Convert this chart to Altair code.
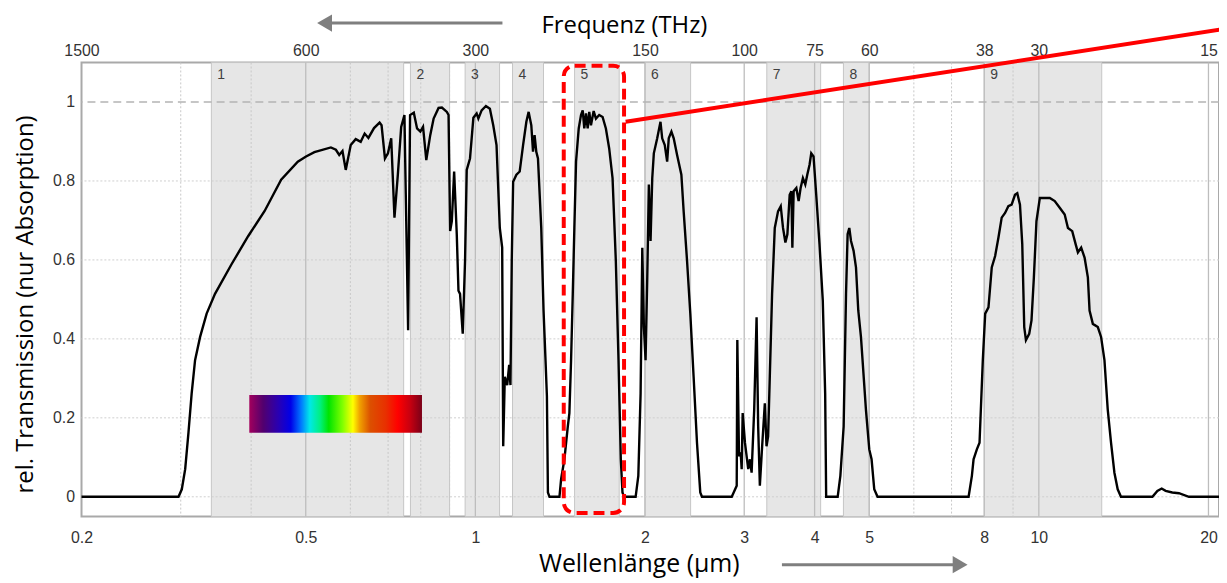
import altair as alt
import pandas as pd

# ---------------- data ----------------
wl = [0.200, 0.2973, 0.3013, 0.3055, 0.3096, 0.3137, 0.3181, 0.3247, 0.3335, 0.3451,
      0.3692, 0.3951, 0.4227, 0.4522, 0.4840, 0.5006, 0.5180, 0.5541, 0.5655, 0.5733,
      0.5810, 0.5888, 0.6009, 0.6133, 0.6259, 0.6361, 0.6459, 0.6609, 0.6761, 0.6816,
      0.6911, 0.6996, 0.7090, 0.7185, 0.7285, 0.7385, 0.7484, 0.7525, 0.7597, 0.7658,
      0.7776, 0.7880, 0.7986, 0.8075, 0.8183, 0.8316, 0.8432, 0.8604, 0.8722, 0.8901,
      0.8962, 0.9020, 0.9083, 0.9169, 0.9268, 0.9333, 0.9393, 0.9497, 0.9587, 0.9653,
      0.9783, 0.9919, 1.0053, 1.0123, 1.0259, 1.0440, 1.0611, 1.0758, 1.0903, 1.1050,
      1.1158, 1.1205, 1.1278, 1.1389, 1.1481, 1.1542, 1.1603, 1.1669, 1.1826, 1.1986,
      1.2153, 1.2317, 1.2432, 1.2569, 1.2656, 1.2738, 1.2827, 1.2915, 1.3090, 1.3213,
      1.3320, 1.3396, 1.3451, 1.3539, 1.4100, 1.4197, 1.4389, 1.4589, 1.4684, 1.4786,
      1.4889, 1.4986, 1.5090, 1.5256, 1.5399, 1.5506, 1.5607, 1.5716, 1.5824, 1.5928,
      1.6038, 1.6215, 1.6367, 1.6588, 1.6819, 1.7046, 1.7276, 1.7517, 1.7753, 1.7949,
      1.8117, 1.8243, 1.8362, 1.9250, 1.9462, 1.9645, 1.9781, 1.9910, 2.0048, 2.0187,
      2.0319, 2.0460, 2.0602, 2.0736, 2.1024, 2.1308, 2.1456, 2.1684, 2.1896, 2.2039,
      2.2282, 2.2491, 2.2804, 2.3206, 2.3424, 2.3750, 2.4070, 2.4396, 2.4735, 2.5069,
      2.5243, 2.8510, 2.9095, 2.9166, 2.9368, 2.9571, 2.9691, 2.9812, 3.0091, 3.0497,
      3.0708, 3.0921, 3.1250, 3.1556, 3.1761, 3.1981, 3.2281, 3.2637, 3.2863, 3.3078,
      3.3306, 3.3619, 3.3990, 3.4448, 3.4829, 3.5155, 3.5499, 3.5789, 3.6125, 3.6376,
      3.6524, 3.6717, 3.7122, 3.7471, 3.7776, 3.8131, 3.8504, 3.8818, 3.9182, 3.9454,
      3.9825, 4.0264, 4.0807, 4.1358, 4.1763, 4.1932, 4.3954, 4.4439, 4.5038, 4.5479,
      4.5776, 4.6093, 4.6416, 4.6908, 4.7368, 4.7813, 4.8340, 4.8656, 4.9332, 5.0012,
      5.0483, 5.1039, 5.1728, 7.5049, 7.6062, 7.6589, 7.7621, 7.8477, 7.9536, 8.0315,
      8.1398, 8.2497, 8.3644, 8.4772, 8.5915, 8.7110, 8.8285, 8.9475, 9.0716, 9.1569,
      9.2578, 9.3448, 9.4209, 9.4862, 9.6142, 9.7045, 9.7995, 9.9031, 10.041, 10.247,
      10.457, 10.672, 10.891, 11.114, 11.264, 11.462, 11.622, 11.731, 11.889, 12.055,
      12.218, 12.303, 12.469, 12.725, 12.896, 13.075, 13.252, 13.431, 13.618, 13.802,
      13.988, 15.906, 16.232, 16.518, 16.789, 17.252, 17.728, 18.462, 20.880]

trans = [0.0, 0.0, 0.019, 0.070, 0.162, 0.262, 0.346, 0.405, 0.464, 0.514,
         0.589, 0.660, 0.724, 0.803, 0.849, 0.862, 0.873, 0.885, 0.879, 0.866,
         0.876, 0.828, 0.891, 0.906, 0.899, 0.920, 0.909, 0.934, 0.948, 0.941,
         0.857, 0.870, 0.908, 0.707, 0.816, 0.937, 0.967, 0.765, 0.422, 0.967,
         0.973, 0.933, 0.925, 0.937, 0.853, 0.916, 0.958, 0.985, 0.986, 0.975,
         0.967, 0.673, 0.698, 0.824, 0.665, 0.522, 0.514, 0.413, 0.598, 0.828,
         0.857, 0.960, 0.971, 0.958, 0.979, 0.990, 0.983, 0.941, 0.891, 0.681,
         0.631, 0.128, 0.304, 0.283, 0.334, 0.283, 0.598, 0.798, 0.816, 0.824,
         0.891, 0.950, 0.975, 0.941, 0.874, 0.916, 0.874, 0.857, 0.681, 0.472,
         0.346, 0.254, 0.011, 0.0, 0.0, 0.045, 0.095, 0.178, 0.212, 0.346,
         0.514, 0.681, 0.849, 0.933, 0.967, 0.979, 0.933, 0.971, 0.933, 0.975,
         0.941, 0.977, 0.958, 0.967, 0.962, 0.933, 0.883, 0.807, 0.598, 0.346,
         0.095, 0.011, 0.0, 0.0, 0.053, 0.262, 0.631, 0.430, 0.346, 0.556,
         0.791, 0.648, 0.807, 0.870, 0.908, 0.950, 0.908, 0.891, 0.849, 0.908,
         0.925, 0.908, 0.866, 0.816, 0.723, 0.598, 0.464, 0.304, 0.137, 0.011,
         0.0, 0.0, 0.028, 0.397, 0.103, 0.112, 0.070, 0.212, 0.137, 0.070,
         0.095, 0.061, 0.221, 0.455, 0.178, 0.028, 0.128, 0.237, 0.128, 0.153,
         0.304, 0.514, 0.681, 0.723, 0.736, 0.681, 0.644, 0.665, 0.765, 0.774,
         0.631, 0.774, 0.782, 0.749, 0.782, 0.807, 0.791, 0.816, 0.841, 0.870,
         0.862, 0.765, 0.640, 0.497, 0.262, 0.0, 0.0, 0.053, 0.178, 0.514,
         0.665, 0.681, 0.648, 0.623, 0.581, 0.472, 0.405, 0.346, 0.221, 0.120,
         0.095, 0.019, 0.0, 0.0, 0.053, 0.095, 0.120, 0.137, 0.346, 0.464,
         0.480, 0.581, 0.610, 0.656, 0.707, 0.719, 0.736, 0.740, 0.765, 0.769,
         0.740, 0.640, 0.430, 0.397, 0.413, 0.447, 0.556, 0.698, 0.757, 0.757,
         0.757, 0.749, 0.732, 0.715, 0.681, 0.673, 0.640, 0.619, 0.631, 0.606,
         0.556, 0.472, 0.438, 0.430, 0.405, 0.346, 0.221, 0.137, 0.061, 0.019,
         0.0, 0.0, 0.015, 0.021, 0.015, 0.011, 0.009, 0.0, 0.0]

band_start = [0.340, 0.767, 0.959, 1.164, 1.50, 2.00, 3.29, 4.50, 8.0]
band_end = [0.746, 0.900, 1.104, 1.321, 1.80, 2.41, 4.10, 5.00, 12.93]
band_label = ["1", "2", "3", "4", "5", "6", "7", "8", "9"]

wl_ticks = [0.2, 0.5, 1, 2, 3, 4, 5, 8, 10, 20]
freq_labels = ["1500", "600", "300", "150", "100", "75", "60", "38", "30", "15"]
y_ticks = [0, 0.2, 0.4, 0.6, 0.8, 1]

major_grid = [0.5, 1, 2, 3, 4, 5, 8, 10, 20]
minor_grid = [0.3, 0.4, 0.6, 0.7, 0.8, 0.9, 6, 7, 9]
h_grid = [0, 0.2, 0.4, 0.6, 0.8]

# annotations (data coordinates: wavelength in µm, relative transmission)
box_x = [1.435, 1.836]
box_y = [1.092, -0.041]
pointer_x = [1.848, 22.0]
pointer_y = [0.950, 1.188]
spectrum_x = [0.397, 0.804]
spectrum_y = [0.258, 0.162]
arrow_top = {"x1": 1.117, "x2": 0.548, "head": 0.540, "y": 1.2}
arrow_bottom = {"x1": 3.50, "x2": 7.10, "head": 7.25, "y": -0.172}

X_DOMAIN = [0.2, 20.88]
Y_DOMAIN = [-0.05, 1.1]

# ---------------- chart ----------------
FONT_LAB = "Liberation Sans"
FONT_TITLE = "Open Sans"
xs = alt.Scale(type="log", domain=X_DOMAIN, nice=False)
ys = alt.Scale(domain=Y_DOMAIN, nice=False, zero=False)

curve_df = pd.DataFrame({"wl": wl, "t": trans})
bands_df = pd.DataFrame({"start": band_start, "end": band_end, "label": band_label})

label_expr = "''"
for v, lab in reversed(list(zip(wl_ticks, freq_labels))):
    label_expr = f"datum.value == {v} ? '{lab}' : ({label_expr})"

bottom_axis = alt.Axis(
    orient="bottom", values=wl_ticks, format="~g", labelFont=FONT_LAB, labelFontSize=16,
    labelColor="#333333", labelPadding=13, ticks=False, domain=False, grid=False,
    labelOverlap=False, labelFlush=False, title="Wellenlänge (µm)", titleFont=FONT_TITLE,
    titleFontSize=25, titleFontWeight="normal", titleColor="#000000", titleX=561,
    titleY=47, titleBaseline="middle", titleAlign="center")

top_axis = alt.Axis(
    orient="top", values=wl_ticks, labelExpr=label_expr, labelFont=FONT_LAB, labelFontSize=16,
    labelColor="#333333", labelPadding=4, ticks=False, domain=False, grid=False,
    labelOverlap=False, labelFlush=False, title="Frequenz (THz)", titleFont=FONT_TITLE,
    titleFontSize=24, titleFontWeight="normal", titleColor="#000000", titleX=546,
    titleY=-37, titleBaseline="middle", titleAlign="center")

y_axis = alt.Axis(
    orient="left", values=y_ticks, format="~g", labelFont=FONT_LAB, labelFontSize=16,
    labelColor="#333333", labelPadding=7, ticks=False, domain=False, grid=False,
    title="rel. Transmission (nur Absorption)", titleFont=FONT_TITLE, titleFontSize=24,
    titleFontWeight="normal", titleColor="#000000", titleX=-56, titleY=243,
    titleAngle=270, titleBaseline="middle", titleAlign="center")

bands = alt.Chart(bands_df).mark_rect(fill="#e6e6e6", stroke="#c6c6c6", strokeWidth=1).encode(
    x=alt.X("start:Q", scale=xs, axis=None), x2="end:Q")

minor = alt.Chart(pd.DataFrame({"g": minor_grid})).mark_rule(
    color="#c8c8c8", strokeWidth=1, strokeDash=[2, 2]).encode(
    x=alt.X("g:Q", scale=xs, axis=None))

major = alt.Chart(pd.DataFrame({"g": major_grid})).mark_rule(
    color="#bdbdbd", strokeWidth=1.3).encode(x=alt.X("g:Q", scale=xs, axis=None))

hgrid = alt.Chart(pd.DataFrame({"h": h_grid})).mark_rule(
    color="#cfcfcf", strokeWidth=1, strokeDash=[2, 2]).encode(
    y=alt.Y("h:Q", scale=ys, axis=None))

one_line = alt.Chart(pd.DataFrame({"h": [1.0]})).mark_rule(
    color="#b4b4b4", strokeWidth=1.6, strokeDash=[8, 5]).encode(
    y=alt.Y("h:Q", scale=ys, axis=None))

spectrum = alt.Chart(pd.DataFrame({"x": [spectrum_x[0]], "x2": [spectrum_x[1]],
                                   "y": [spectrum_y[0]], "y2": [spectrum_y[1]]})).mark_rect(
    color=alt.Gradient(
        gradient="linear", x1=0, x2=1, y1=0, y2=0,
        stops=[alt.GradientStop(offset=0.0, color="#a2005c"),
               alt.GradientStop(offset=0.08, color="#52006e"),
               alt.GradientStop(offset=0.17, color="#2800b4"),
               alt.GradientStop(offset=0.24, color="#0000e8"),
               alt.GradientStop(offset=0.30, color="#0078ff"),
               alt.GradientStop(offset=0.35, color="#00e8e8"),
               alt.GradientStop(offset=0.41, color="#00f080"),
               alt.GradientStop(offset=0.46, color="#00e400"),
               alt.GradientStop(offset=0.54, color="#80ff00"),
               alt.GradientStop(offset=0.60, color="#ffff00"),
               alt.GradientStop(offset=0.64, color="#f0a000"),
               alt.GradientStop(offset=0.70, color="#dc5000"),
               alt.GradientStop(offset=0.79, color="#e83000"),
               alt.GradientStop(offset=0.86, color="#ff0000"),
               alt.GradientStop(offset=0.93, color="#c80010"),
               alt.GradientStop(offset=1.0, color="#7a0018")])).encode(
    x=alt.X("x:Q", scale=xs, axis=None), x2="x2:Q",
    y=alt.Y("y:Q", scale=ys, axis=None), y2="y2:Q")

curve = alt.Chart(curve_df).mark_line(color="#000000", strokeWidth=2.4).encode(
    x=alt.X("wl:Q", scale=xs, axis=bottom_axis),
    y=alt.Y("t:Q", scale=ys, axis=y_axis))

labels = alt.Chart(bands_df).mark_text(
    align="left", baseline="middle", dx=6, font=FONT_LAB, fontSize=14, color="#404040").encode(
    x=alt.X("start:Q", scale=xs, axis=top_axis), y=alt.value(13), text="label:N")

box = alt.Chart(pd.DataFrame({"x": [box_x[0]], "x2": [box_x[1]],
                              "y": [box_y[0]], "y2": [box_y[1]]})).mark_rect(
    fillOpacity=0, stroke="#ff0000", strokeWidth=4, strokeDash=[11, 6], cornerRadius=11).encode(
    x=alt.X("x:Q", scale=xs, axis=None), x2="x2:Q",
    y=alt.Y("y:Q", scale=ys, axis=None), y2="y2:Q")

pointer = alt.Chart(pd.DataFrame({"x": [pointer_x[0]], "x2": [pointer_x[1]],
                                  "y": [pointer_y[0]], "y2": [pointer_y[1]]})).mark_rule(
    color="#ff0000", strokeWidth=4).encode(
    x=alt.X("x:Q", scale=xs, axis=None), x2="x2:Q",
    y=alt.Y("y:Q", scale=ys, axis=None), y2="y2:Q")

arrows_df = pd.DataFrame([arrow_top, arrow_bottom])
arrows_df["shape"] = ["triangle-left", "triangle-right"]
shafts = alt.Chart(arrows_df).mark_rule(color="#7f7f7f", strokeWidth=3).encode(
    x=alt.X("x1:Q", scale=xs, axis=None), x2="x2:Q",
    y=alt.Y("y:Q", scale=ys, axis=None))
heads = alt.Chart(arrows_df).mark_point(filled=True, color="#7f7f7f", opacity=1, size=300).encode(
    x=alt.X("head:Q", scale=xs, axis=None),
    y=alt.Y("y:Q", scale=ys, axis=None),
    shape=alt.Shape("shape:N", scale=None, legend=None))

chart = alt.layer(
    bands, minor, major, hgrid, one_line, spectrum, curve, labels, box, pointer, shafts, heads
).resolve_axis(x="independent", y="independent").properties(
    width=1145, height=457,
    padding={"left": 74, "top": 53, "right": 0, "bottom": 63},
    autosize=alt.AutoSizeParams(type="none"),
    background="#ffffff",
).configure_view(stroke="#a9a9a9", strokeWidth=2)

chart.save("out.html", embed_options={"renderer": "svg", "actions": False})
